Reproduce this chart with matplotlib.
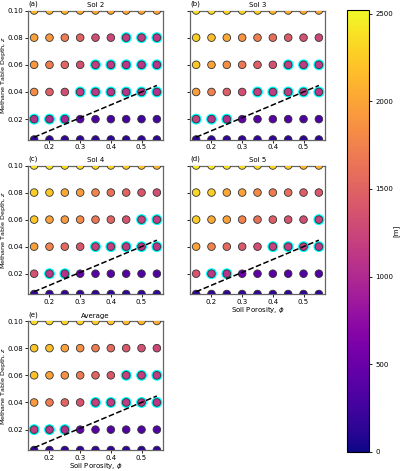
import numpy as np
import matplotlib
matplotlib.use("Agg")
import matplotlib.pyplot as plt
from matplotlib.colors import Normalize

# ---- data ----
porosity = [0.15, 0.20, 0.25, 0.30, 0.35, 0.40, 0.45, 0.50, 0.55]
depth = [0.005, 0.02, 0.04, 0.06, 0.08, 0.10]
titles = ["Sol 2", "Sol 3", "Sol 4", "Sol 5", "Average"]
letters = ["(a)", "(b)", "(c)", "(d)", "(e)"]

# values [m], rows follow `depth` (bottom to top), columns follow `porosity`
sol2 = [
    [170, 165, 160, 160, 155, 155, 150, 150, 150],
    [1060, 1010, 960, 380, 330, 300, 280, 260, 250],
    [1820, 1470, 1320, 1170, 1130, 1100, 1080, 1060, 1050],
    [1900, 1720, 1520, 1320, 1190, 1150, 1120, 1100, 1080],
    [1970, 1900, 1700, 1500, 1320, 1270, 1180, 1160, 1130],
    [2150, 2120, 2100, 2030, 2000, 2000, 1990, 1980, 1970],
]
sol3 = [
    [175, 170, 165, 165, 160, 160, 155, 155, 155],
    [1200, 1090, 1030, 450, 400, 380, 350, 330, 320],
    [1950, 1720, 1460, 1310, 1190, 1160, 1140, 1120, 1100],
    [2220, 1970, 1840, 1670, 1470, 1340, 1190, 1160, 1140],
    [2270, 2150, 2020, 1870, 1720, 1590, 1440, 1340, 1260],
    [2350, 2330, 2300, 2280, 2250, 2100, 2050, 2020, 2000],
]
sol4 = [
    [180, 175, 170, 170, 165, 165, 160, 160, 160],
    [1340, 1130, 1060, 430, 400, 380, 360, 340, 330],
    [1970, 1760, 1560, 1390, 1210, 1180, 1160, 1130, 1110],
    [2220, 1970, 1920, 1820, 1660, 1510, 1360, 1210, 1180],
    [2270, 2220, 2020, 1940, 1760, 1610, 1510, 1390, 1310],
    [2400, 2380, 2350, 2330, 2300, 2280, 2250, 2200, 2100],
]
sol5 = [
    [185, 180, 175, 175, 170, 170, 165, 165, 165],
    [1360, 1130, 1080, 500, 430, 400, 380, 370, 360],
    [1970, 1760, 1560, 1410, 1310, 1210, 1180, 1160, 1130],
    [2270, 2020, 1970, 1760, 1610, 1460, 1360, 1310, 1210],
    [2320, 2270, 2020, 1970, 1810, 1710, 1590, 1460, 1390],
    [2420, 2400, 2380, 2360, 2340, 2300, 2250, 2120, 2080],
]
average = [
    [178, 172, 168, 167, 162, 162, 158, 157, 157],
    [1180, 1110, 1060, 430, 390, 370, 350, 340, 330],
    [1920, 1710, 1510, 1360, 1210, 1180, 1160, 1130, 1110],
    [2190, 1970, 1860, 1690, 1510, 1390, 1210, 1180, 1160],
    [2220, 2170, 1970, 1860, 1710, 1560, 1410, 1340, 1260],
    [2350, 2330, 2300, 2280, 2250, 2200, 2150, 2100, 2050],
]

# highlighted (cyan-ringed) cells, same layout
mask2 = [
    [0, 0, 0, 0, 0, 0, 0, 0, 0],
    [1, 1, 1, 0, 0, 0, 0, 0, 0],
    [0, 0, 0, 1, 1, 1, 1, 1, 1],
    [0, 0, 0, 0, 1, 1, 1, 1, 1],
    [0, 0, 0, 0, 0, 0, 1, 1, 1],
    [0, 0, 0, 0, 0, 0, 0, 0, 0],
]
mask3 = [
    [0, 0, 0, 0, 0, 0, 0, 0, 0],
    [1, 1, 1, 0, 0, 0, 0, 0, 0],
    [0, 0, 0, 0, 1, 1, 1, 1, 1],
    [0, 0, 0, 0, 0, 0, 1, 1, 1],
    [0, 0, 0, 0, 0, 0, 0, 0, 0],
    [0, 0, 0, 0, 0, 0, 0, 0, 0],
]
mask4 = [
    [0, 0, 0, 0, 0, 0, 0, 0, 0],
    [0, 1, 1, 0, 0, 0, 0, 0, 0],
    [0, 0, 0, 0, 1, 1, 1, 1, 1],
    [0, 0, 0, 0, 0, 0, 0, 1, 1],
    [0, 0, 0, 0, 0, 0, 0, 0, 0],
    [0, 0, 0, 0, 0, 0, 0, 0, 0],
]
mask5 = [
    [0, 0, 0, 0, 0, 0, 0, 0, 0],
    [0, 1, 1, 0, 0, 0, 0, 0, 0],
    [0, 0, 0, 0, 0, 1, 1, 1, 1],
    [0, 0, 0, 0, 0, 0, 0, 0, 1],
    [0, 0, 0, 0, 0, 0, 0, 0, 0],
    [0, 0, 0, 0, 0, 0, 0, 0, 0],
]
mask_avg = [
    [0, 0, 0, 0, 0, 0, 0, 0, 0],
    [1, 1, 1, 0, 0, 0, 0, 0, 0],
    [0, 0, 0, 0, 1, 1, 1, 1, 1],
    [0, 0, 0, 0, 0, 0, 1, 1, 1],
    [0, 0, 0, 0, 0, 0, 0, 0, 0],
    [0, 0, 0, 0, 0, 0, 0, 0, 0],
]

# dashed boundary line endpoints
line_phi = [0.15, 0.55]
line_z = [0.0067, 0.0448]

cbar_ticks = [0, 500, 1000, 1500, 2000, 2500]
vmin, vmax = 0, 2520

panels = [sol2, sol3, sol4, sol5, average]
masks = [mask2, mask3, mask4, mask5, mask_avg]

# ---- figure ----
FS = 5.0
plt.rcParams["font.size"] = FS
fig = plt.figure(figsize=(4.0, 4.71), dpi=100)

W, H = 400.0, 471.0
def rect(l, r, t, b):
    return [l / W, 1 - b / H, (r - l) / W, (b - t) / H]

rects = [
    rect(28, 163, 10.5, 139.5),
    rect(190, 325, 10.5, 139.5),
    rect(28, 163, 165.5, 294),
    rect(190, 325, 165.5, 294),
    rect(28, 163, 321, 450),
]

norm = Normalize(vmin=vmin, vmax=vmax)
PP, ZZ = np.meshgrid(porosity, depth)
sc = None
for i, (vals, msk) in enumerate(zip(panels, masks)):
    ax = fig.add_axes(rects[i])
    v = np.array(vals, dtype=float)
    m = np.array(msk, dtype=bool)
    ax.scatter(PP[m], ZZ[m], s=62, c="cyan", edgecolors="none", zorder=2)
    sc = ax.scatter(PP.ravel(), ZZ.ravel(), c=v.ravel(), cmap="plasma", norm=norm,
                    s=30, edgecolors="#333333", linewidths=0.6, zorder=3)
    ax.plot(line_phi, line_z, "k--", lw=1.1, zorder=4)
    ax.set_xlim(0.13, 0.57)
    ax.set_ylim(min(depth), max(depth))
    ax.set_xticks([0.2, 0.3, 0.4, 0.5])
    ax.set_yticks([0.02, 0.04, 0.06, 0.08, 0.10])
    ax.set_yticklabels(["0.02", "0.04", "0.06", "0.08", "0.10"])
    ax.tick_params(labelsize=FS, length=2.2, width=0.6, pad=1.2)
    for sp in ax.spines.values():
        sp.set_linewidth(0.9)
        sp.set_color("#666666")
    if i % 2 == 1:
        ax.tick_params(labelleft=False)
    else:
        ax.set_ylabel("Methane Table Depth, $z$", fontsize=4.6)
        ax.yaxis.set_label_coords((7.7 - 28.0) / 135.0, 0.5)
    if i in (3, 4):
        ax.set_xlabel(r"Soil Porosity, $\phi$", fontsize=FS)
        ax.xaxis.set_label_coords(0.5, -(461.0 - 450.0) / 129.0)
    ax.set_title(titles[i], fontsize=FS, pad=2.5)
    ax.text(0.0, 1.025, letters[i], transform=ax.transAxes, ha="left", va="bottom",
            fontsize=FS)

cax = fig.add_axes(rect(347, 369, 10, 452))
cb = fig.colorbar(sc, cax=cax, ticks=cbar_ticks)
cb.ax.tick_params(labelsize=FS, length=2.5, width=0.6, pad=2)
cb.set_label("[m]", fontsize=FS)
cb.ax.yaxis.set_label_coords((392.5 - 347.0) / 22.0, 0.5)
cb.outline.set_linewidth(0.8)

fig.savefig("out.png", dpi=100)
